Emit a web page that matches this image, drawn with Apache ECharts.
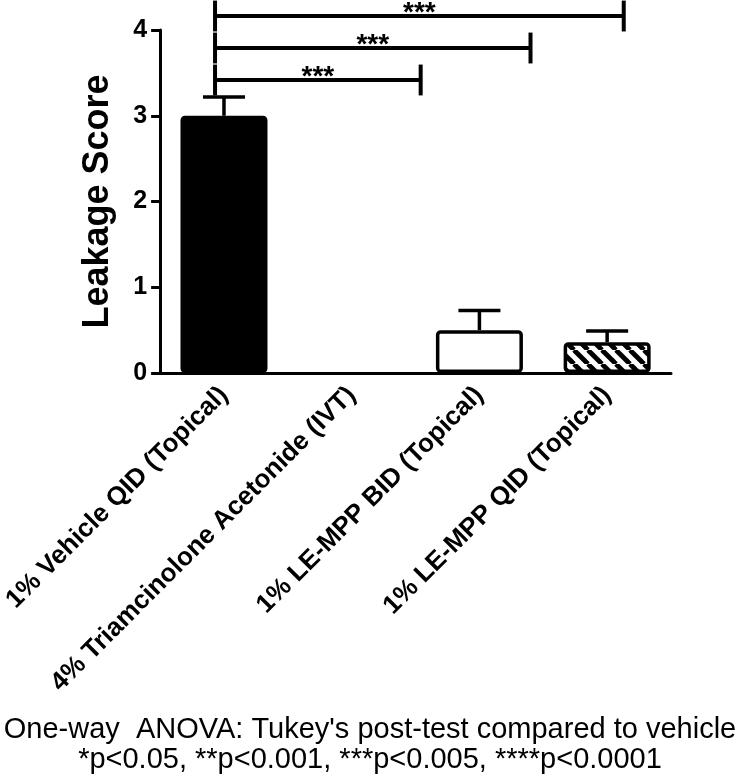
<!DOCTYPE html>
<html>
<head>
<meta charset="utf-8">
<script src="https://cdn.jsdelivr.net/npm/echarts@6/dist/echarts.min.js"></script>
<style>
html,body{margin:0;padding:0;background:#fff;}
#chart{width:740px;height:776px;}
</style>
</head>
<body>
<div id="chart"></div>
<script>
// ---- data ----
const categories = [
  '1% Vehicle QID (Topical)',
  '4% Triamcinolone Acetonide (IVT)',
  '1% LE-MPP BID (Topical)',
  '1% LE-MPP QID (Topical)'
];
const means = [3.0, 0, 0.5, 0.36];
const errorTops = [3.22, 0, 0.73, 0.49];
const yAxisName = 'Leakage Score';
// significance brackets (x in category-position units, 0..4 across the axis)
const bracketStart = [0.43, 0.43, 0.43];
const bracketEnd = [2.04, 2.9, 3.63];
const bracketLevel = [3.417, 3.79, 4.163];
const bracketLabel = ['***', '***', '***'];
const footerLines = [
  "One-way  ANOVA: Tukey's post-test compared to vehicle",
  '*p<0.05, **p<0.001, ***p<0.005, ****p<0.0001'
];

// hatch pattern
function makeHatch() {
  const s = 14;
  const c = document.createElement('canvas');
  c.width = s; c.height = s;
  const ctx = c.getContext('2d');
  ctx.fillStyle = '#fff';
  ctx.fillRect(0, 0, s, s);
  ctx.strokeStyle = '#000';
  ctx.lineWidth = 4.8;
  for (let k = -1; k <= 1; k++) {
    ctx.beginPath();
    ctx.moveTo(k * s, 0);
    ctx.lineTo(k * s + s, s);
    ctx.stroke();
  }
  return c;
}

const barStyles = [
  { color: '#000', borderColor: '#000', borderWidth: 3 },
  { color: '#fff', borderColor: '#000', borderWidth: 0 },
  { color: '#fff', borderColor: '#000', borderWidth: 3.5 },
  { color: { image: makeHatch(), repeat: 'repeat' }, borderColor: '#000', borderWidth: 3.5 }
];

const barData = means.map((v, i) => ({
  value: v,
  itemStyle: Object.assign({ borderRadius: 3 }, barStyles[i])
}));
const errData = means.map((v, i) => [i, v, errorTops[i]]);
const bracketData = bracketStart.map((s, i) => [s, bracketEnd[i], bracketLevel[i]]);

const chart = echarts.init(document.getElementById('chart'), null, { renderer: 'canvas' });
const FONT = 'Liberation Sans, Arial, sans-serif';

chart.setOption({
  backgroundColor: '#fff',
  animation: false,
  title: {
    text: footerLines.join('\n'),
    left: 'center',
    top: 710,
    textStyle: {
      fontFamily: 'Liberation Sans, Arial, sans-serif',
      fontSize: 29,
      fontWeight: 'normal',
      color: '#000',
      lineHeight: 30
    }
  },
  grid: { left: 156, right: 69, top: 30, bottom: 403, containLabel: false },
  xAxis: [
    {
      type: 'category',
      data: categories,
      axisLine: { lineStyle: { color: '#000', width: 3 } },
      axisTick: { alignWithLabel: true, length: 9, lineStyle: { color: '#000', width: 3 } },
      axisLabel: {
        rotate: 45,
        margin: 18,
        color: '#000',
        fontFamily: FONT,
        fontWeight: 'bold',
        fontSize: 26,
        interval: 0
      }
    },
    { type: 'value', min: 0, max: 4, show: false }
  ],
  yAxis: {
    type: 'value',
    min: 0,
    max: 4,
    interval: 1,
    name: yAxisName,
    nameLocation: 'middle',
    nameGap: 44,
    nameTextStyle: { fontFamily: FONT, fontWeight: 'bold', fontSize: 36, color: '#000' },
    axisLine: { show: true, lineStyle: { color: '#000', width: 3 } },
    axisTick: { show: true, length: 9, lineStyle: { color: '#000', width: 3 } },
    axisLabel: { margin: 13, color: '#000', fontFamily: FONT, fontWeight: 'bold', fontSize: 25 },
    splitLine: { show: false }
  },
  series: [
    {
      type: 'bar',
      data: barData,
      barWidth: 87,
      z: 2
    },
    {
      type: 'custom',
      data: errData,
      z: 3,
      renderItem: function (params, api) {
        const i = api.value(0), lo = api.value(1), hi = api.value(2);
        if (hi <= lo) return null;
        const p0 = api.coord([i, lo]);
        const p1 = api.coord([i, hi]);
        const cap = 21;
        const st = { stroke: '#000', lineWidth: 3.5 };
        return {
          type: 'group',
          children: [
            { type: 'line', shape: { x1: p0[0], y1: p0[1], x2: p1[0], y2: p1[1] }, style: st },
            { type: 'line', shape: { x1: p1[0] - cap, y1: p1[1], x2: p1[0] + cap, y2: p1[1] }, style: st }
          ]
        };
      }
    },
    {
      type: 'custom',
      xAxisIndex: 1,
      yAxisIndex: 0,
      data: bracketData,
      clip: false,
      z: 3,
      renderItem: function (params, api) {
        const x1 = api.value(0), x2 = api.value(1), y = api.value(2);
        const label = bracketLabel[params.dataIndex];
        const d = 0.18;
        const pL = api.coord([x1, y]);
        const pR = api.coord([x2, y]);
        const pLt = api.coord([x1, y + d]);
        const pLb = api.coord([x1, y - d]);
        const pRt = api.coord([x2, y + d]);
        const pRb = api.coord([x2, y - d]);
        const st = { stroke: '#000', lineWidth: 4 };
        return {
          type: 'group',
          children: [
            { type: 'line', shape: { x1: pL[0], y1: pL[1], x2: pR[0], y2: pR[1] }, style: st },
            { type: 'line', shape: { x1: pLt[0], y1: pLt[1], x2: pLb[0], y2: pLb[1] }, style: st },
            { type: 'line', shape: { x1: pRt[0], y1: pRt[1], x2: pRb[0], y2: pRb[1] }, style: st },
            {
              type: 'text',
              style: {
                text: label,
                x: (pL[0] + pR[0]) / 2,
                y: pL[1] - 3,
                align: 'center',
                verticalAlign: 'middle',
                fontFamily: FONT,
                fontWeight: 'bold',
                fontSize: 28,
                fill: '#000'
              }
            }
          ]
        };
      }
    }
  ]
});
</script>
</body>
</html>
